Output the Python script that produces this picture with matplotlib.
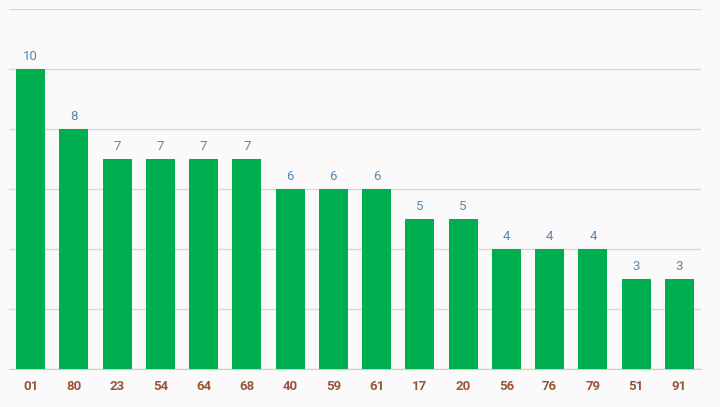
import matplotlib.pyplot as plt

# Data
categories = ['01', '80', '23', '54', '64', '68', '40', '59', '61', '17', '20', '56', '76', '79', '51', '91']
values = [10, 8, 7, 7, 7, 7, 6, 6, 6, 5, 5, 4, 4, 4, 3, 3]
y_ticks = [0, 2, 4, 6, 8, 10, 12]

plt.rcParams['font.family'] = ['Roboto', 'DejaVu Sans']

fig = plt.figure(figsize=(7.2, 4.07), dpi=100, facecolor='#fafafa')
ax = fig.add_axes([9 / 720, 38 / 407, 692 / 720, 360 / 407])
ax.set_facecolor('#fafafa')

x = range(len(categories))
bars = ax.bar(x, values, width=0.67, color='#00ae4f', zorder=3)

# Value labels above bars
for xi, v in zip(x, values):
    ax.text(xi, v + 0.2, str(v), ha='center', va='bottom', fontsize=9.5, color='#5b87ad')

ax.set_xlim(-0.5, len(categories) - 0.5)
ax.set_ylim(0, 12)
ax.set_yticks(y_ticks)
ax.set_yticklabels([])
ax.tick_params(axis='y', length=0)
ax.grid(axis='y', color='#d9d9d9', linewidth=1, zorder=0)

ax.set_xticks(list(x))
ax.set_xticklabels(categories, fontsize=9.5, fontweight='bold', color='#9a5538')
ax.tick_params(axis='x', length=0, pad=8)

for s in ['top', 'right', 'left']:
    ax.spines[s].set_visible(False)
ax.spines['bottom'].set_color('#cccccc')

fig.savefig('out.png', dpi=100, facecolor=fig.get_facecolor())
